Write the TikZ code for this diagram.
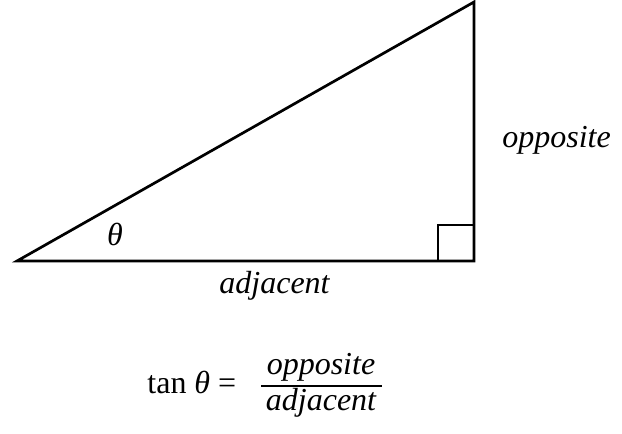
\documentclass[tikz,border=0pt]{standalone}
\usepackage{fontspec}
\setmainfont{Liberation Serif}
\usetikzlibrary{calc}
\begin{document}
\begin{tikzpicture}[
    x=0.5pt, y=-0.5pt,
    every node/.style={font=\fontsize{16}{19}\selectfont,inner sep=0pt},
    side/.style={line width=1.35pt,line join=miter}]
    \useasboundingbox (0,0) rectangle (622,434);
    % Vertices of the triangle.
    \coordinate (A) at (17,261);
    \coordinate (B) at (474,261);
    \coordinate (C) at (474,2);
    \draw[side] (A) -- (B) -- (C) -- cycle;
    \draw[side] ($(B)+(-36,0)$) -- ++(0,-36) -- ++(36,0);

    \node[anchor=base] (theta) at (115,245) {\itshape θ};
    \node[anchor=base west] (opp) at (502,147) {\itshape opposite};
    \node[anchor=base west] (adj) at (219,293) {\itshape adjacent};

    % tan formula
    \node[anchor=base west] (tanlbl) at (147,393) {tan \textit{θ} =};
    \coordinate (barL) at (261,386);
    \coordinate (barR) at (382,386);
    \draw[line width=1pt] (barL) -- (barR);
    \node[anchor=base] (num) at (321,374) {\itshape opposite};
    \node[anchor=base] (den) at (321,410) {\itshape adjacent};
\end{tikzpicture}
\end{document}
